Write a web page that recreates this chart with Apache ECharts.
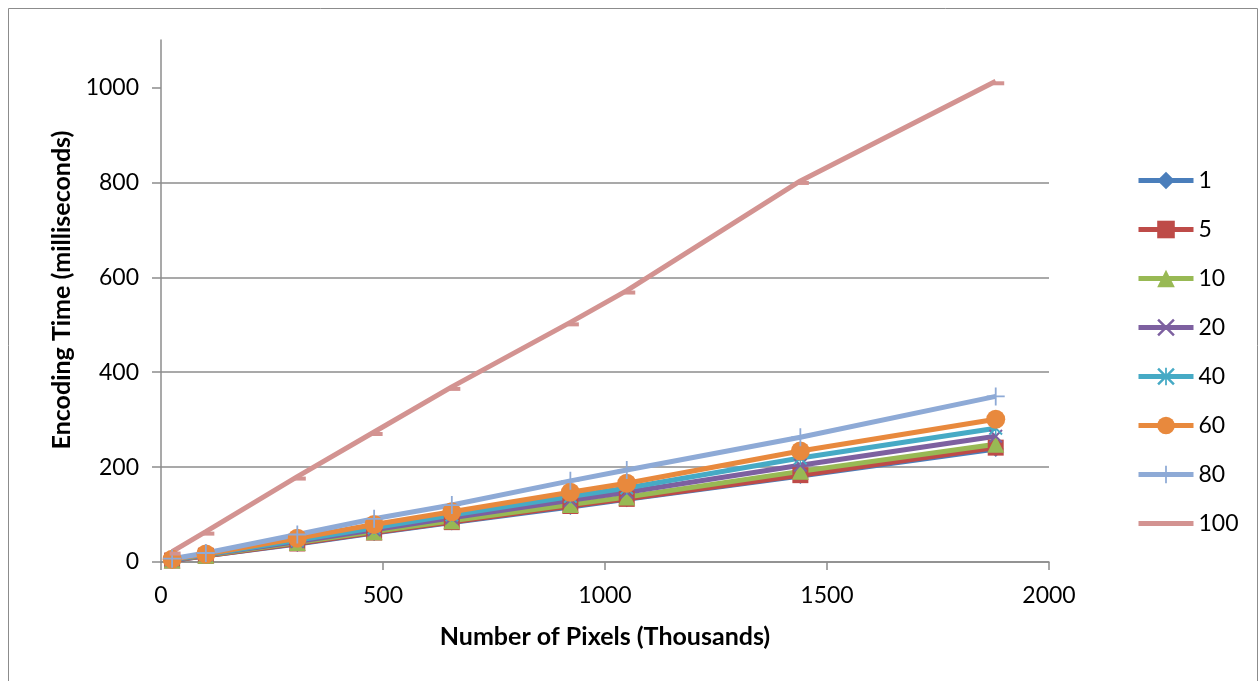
<!DOCTYPE html>
<html>
<head>
<meta charset="utf-8">
<title>Encoding Time vs Number of Pixels</title>
<script src="https://cdn.jsdelivr.net/npm/echarts@6/dist/echarts.min.js"></script>
<style>
  html, body { margin: 0; padding: 0; background: #ffffff; }
  #chart { width: 1260px; height: 681px; }
</style>
</head>
<body>
<div id="chart"></div>
<script>
// Frame sizes in thousands of pixels
const pixelsK = [25, 101, 307, 480, 655, 922, 1049, 1440, 1880];

// Encoding time (ms) per quality setting
const q1   = [3, 13, 38, 61, 83, 116, 132, 181, 238];
const q5   = [3, 13, 39, 62, 84, 118, 133, 183, 241];
const q10  = [4, 14, 41, 64, 87, 121, 137, 191, 248];
const q20  = [4, 15, 43, 68, 93, 130, 147, 204, 265];
const q40  = [5, 16, 46, 72, 99, 138, 156, 219, 282];
const q60  = [6, 17, 50, 79, 106, 147, 166, 234, 301];
const q80  = [7, 19, 58, 91, 120, 171, 194, 263, 349];
const q100 = [22, 64, 180, 274, 369, 505, 572, 803, 1013];

const seriesNames = ['1', '5', '10', '20', '40', '60', '80', '100'];
const seriesValues = [q1, q5, q10, q20, q40, q60, q80, q100];

const yTicks = [0, 200, 400, 600, 800, 1000];
const xTicks = [0, 500, 1000, 1500, 2000];

// marker shapes
const crossPath = 'path://M0,1 L1,0 L5,4 L9,0 L10,1 L6,5 L10,9 L9,10 L5,6 L1,10 L0,9 L4,5 Z';
const starPath = 'path://M0,1 L1,0 L5,4 L9,0 L10,1 L6,5 L10,9 L9,10 L5,6 L1,10 L0,9 L4,5 Z M4.5,0 L5.5,0 L5.5,10 L4.5,10 Z';
const plusPath = 'path://M4.5,0 L5.5,0 L5.5,4.5 L10,4.5 L10,5.5 L5.5,5.5 L5.5,10 L4.5,10 L4.5,5.5 L0,5.5 L0,4.5 L4.5,4.5 Z';

const styles = [
  { color: '#4a7ebb', symbol: 'diamond', size: 16 },
  { color: '#be4b48', symbol: 'rect', size: 16 },
  { color: '#98b954', symbol: 'triangle', size: 17 },
  { color: '#7d60a0', symbol: crossPath, size: 14 },
  { color: '#46aac5', symbol: starPath, size: 14 },
  { color: '#e8893d', symbol: 'circle', size: 19 },
  { color: '#8eaad6', symbol: plusPath, size: 18 },
  { color: '#d39391', symbol: 'rect', size: [11, 4], offset: [3, 2] }
];

const fontFamily = 'Lato, "Open Sans", sans-serif';
const axisGray = '#8c8c8c';
const plainNumber = v => String(v);

const series = seriesNames.map((name, i) => ({
  name: name,
  type: 'line',
  data: pixelsK.map((x, j) => [x, seriesValues[i][j]]),
  symbol: styles[i].symbol,
  symbolSize: styles[i].size,
  symbolOffset: styles[i].offset || [0, 0],
  symbolKeepAspect: false,
  showSymbol: true,
  lineStyle: { color: styles[i].color, width: 5 },
  itemStyle: { color: styles[i].color, borderWidth: 0 },
  emphasis: { disabled: true },
  clip: false
}));

// the dash marker of the last series is hidden behind its line in the key
const legendData = seriesNames.map((name, i) =>
  i === seriesNames.length - 1 ? { name: name, itemStyle: { opacity: 0 } } : { name: name });

const chart = echarts.init(document.getElementById('chart'), null, { renderer: 'canvas' });
chart.setOption({
  animation: false,
  backgroundColor: '#ffffff',
  graphic: [{
    type: 'rect',
    shape: { x: 8.5, y: 8.5, width: 1249, height: 700 },
    style: { fill: 'none', stroke: '#8c8c8c', lineWidth: 1 },
    silent: true
  }],
  grid: { left: 161, right: 211, top: 40, bottom: 119, containLabel: false },
  legend: {
    orient: 'vertical',
    left: 1136,
    top: 169,
    padding: 0,
    itemWidth: 55,
    itemHeight: 22,
    itemGap: 26,
    lineStyle: { width: 5 },
    textStyle: { fontFamily: fontFamily, fontSize: 23, color: '#000', lineHeight: 22 },
    data: legendData
  },
  xAxis: {
    type: 'value',
    min: xTicks[0],
    max: xTicks[xTicks.length - 1],
    interval: 500,
    name: 'Number of Pixels (Thousands)',
    nameLocation: 'middle',
    nameGap: 62,
    nameTextStyle: { fontFamily: fontFamily, fontSize: 25, fontWeight: 'bold', color: '#000' },
    axisLine: { show: true, onZero: false, lineStyle: { color: axisGray, width: 1.5 } },
    axisTick: { show: true, inside: false, length: 8, lineStyle: { color: axisGray, width: 1.5 } },
    axisLabel: { fontFamily: fontFamily, fontSize: 23, color: '#000', margin: 22, formatter: plainNumber },
    splitLine: { show: false }
  },
  yAxis: {
    type: 'value',
    min: 0,
    max: 1100,
    interval: 200,
    name: 'Encoding Time (milliseconds)',
    nameLocation: 'middle',
    nameGap: 86,
    nameTextStyle: { fontFamily: fontFamily, fontSize: 25, fontWeight: 'bold', color: '#000', padding: [0, 0, 0, 22] },
    axisLine: { show: true, lineStyle: { color: axisGray, width: 1.5 } },
    axisTick: { show: true, inside: false, length: 9, customValues: yTicks, lineStyle: { color: axisGray, width: 1.5 } },
    axisLabel: { fontFamily: fontFamily, fontSize: 23, color: '#000', margin: 22, customValues: yTicks, formatter: plainNumber },
    splitLine: { show: true, showMaxLine: false, lineStyle: { color: axisGray, width: 1.5 } }
  },
  series: series
});
</script>
</body>
</html>
